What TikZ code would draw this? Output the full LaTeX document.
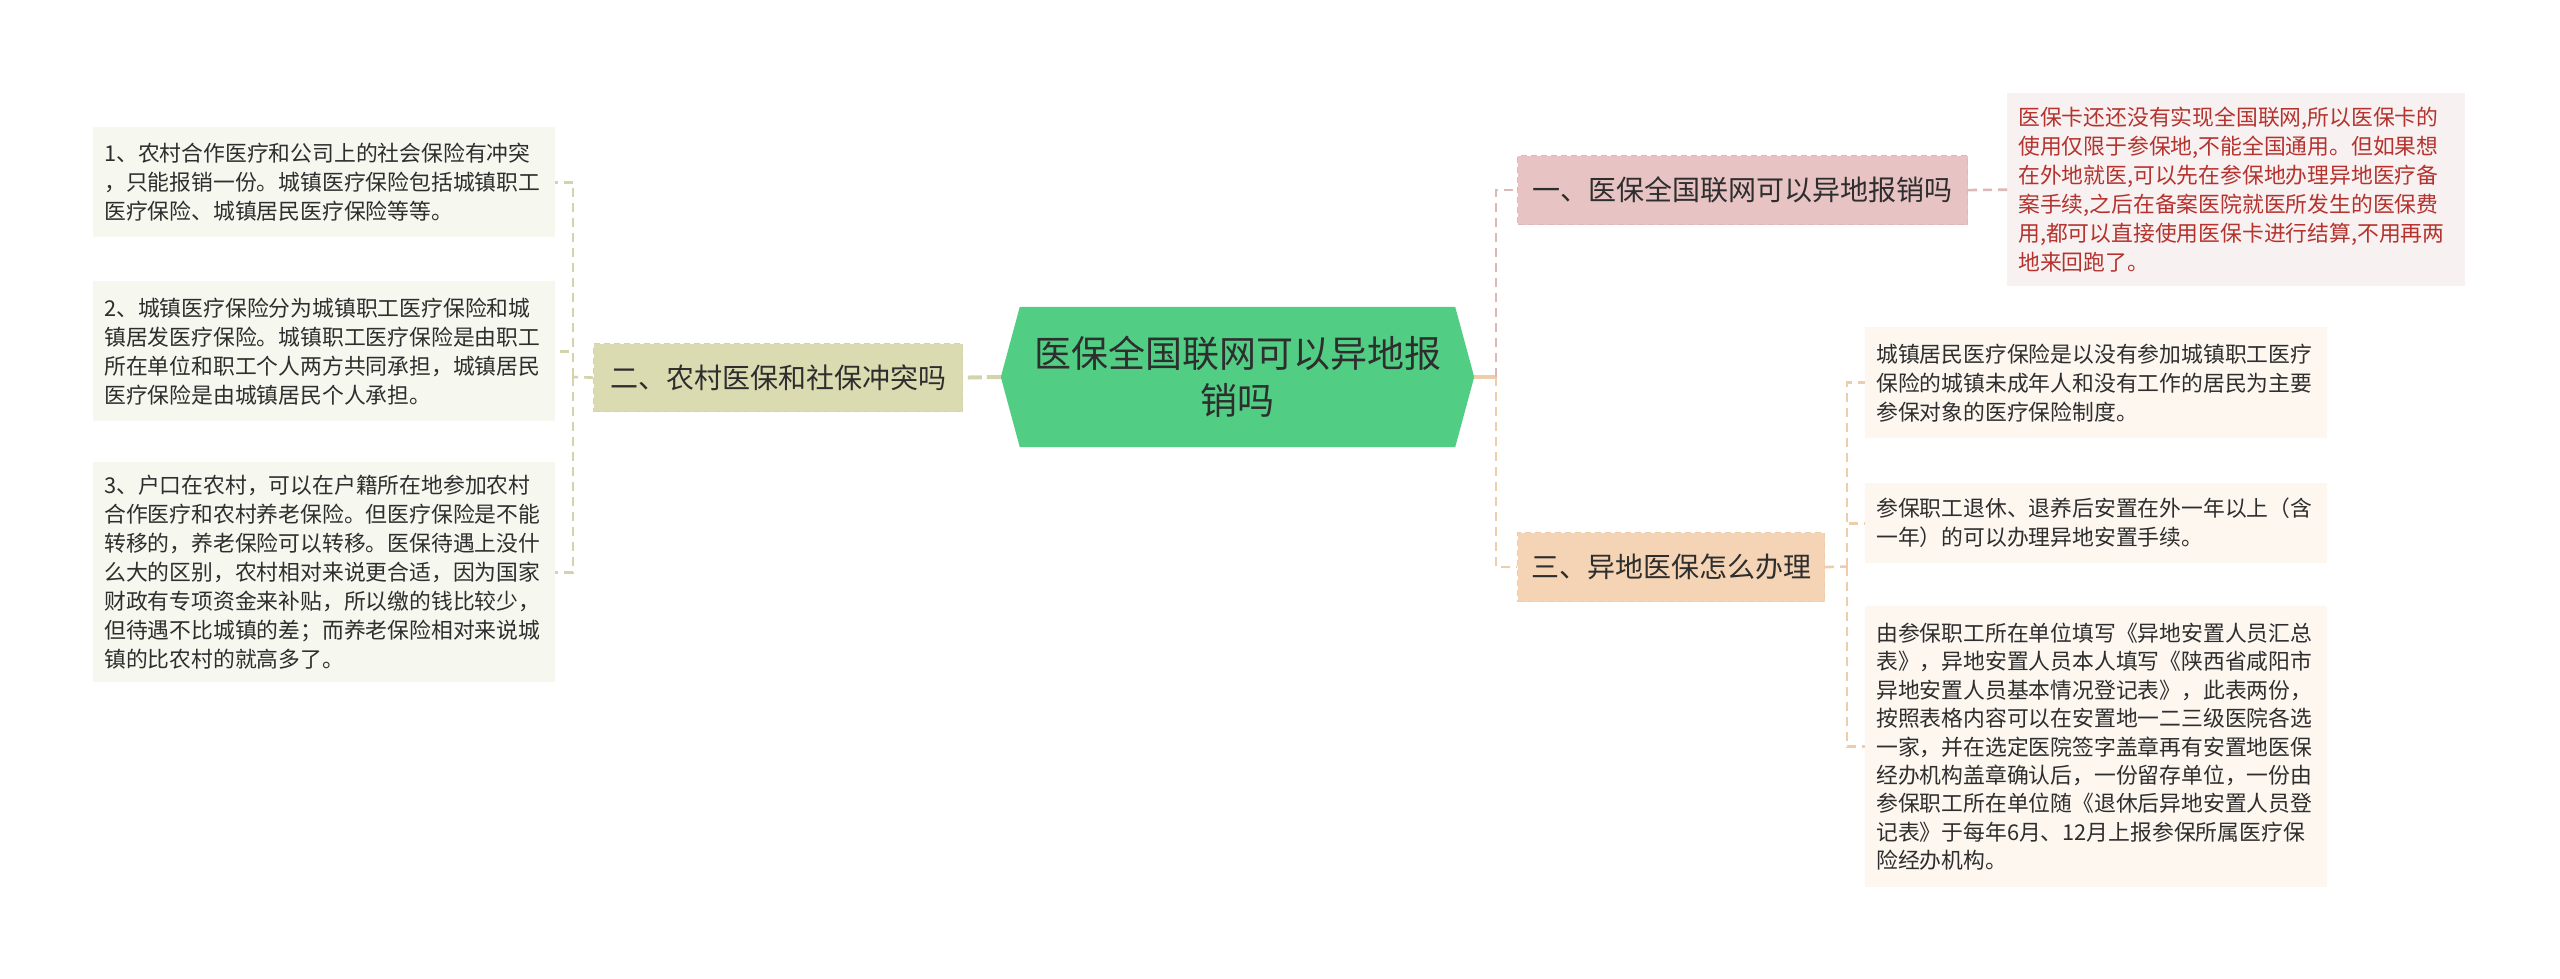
\documentclass[tikz,border=0pt]{standalone}
\usepackage{fontspec}
\setmainfont{Noto Sans CJK SC}
\usetikzlibrary{backgrounds}
\definecolor{cgreen}{HTML}{52CD84}
\definecolor{ckhaki}{HTML}{DBDBB2}
\definecolor{ckhakiln}{HTML}{D3D4AB}
\definecolor{cleftbox}{HTML}{F6F7EF}
\definecolor{cpink}{HTML}{E7C3C3}
\definecolor{cpinkln}{HTML}{DDB8B8}
\definecolor{credbox}{HTML}{F7F1F1}
\definecolor{credtext}{HTML}{B5332E}
\definecolor{cpeach}{HTML}{F4D4B4}
\definecolor{cpeachln}{HTML}{EFCDAA}
\definecolor{crightbox}{HTML}{FDF7F0}
\definecolor{ctext}{HTML}{2E2E2E}
\tikzset{
  detail/.style={anchor=north west, align=left, text width=440pt, inner xsep=11pt, inner ysep=0pt,
    font=\fontsize{21.8}{29}\selectfont, text=ctext},
  topic/.style={anchor=north west, inner sep=0pt, font=\fontsize{28}{34}\selectfont, text=ctext,
    line width=1.2pt, dash pattern=on 6pt off 4pt},
  conn/.style={line width=2.6pt, dash pattern=on 9pt off 6pt},
}
\begin{document}
\begin{tikzpicture}[x=1pt,y=-1pt]
\useasboundingbox (0,0) rectangle (2560,979);

% central node
\node[inner sep=0pt, minimum width=473pt, minimum height=140pt, align=center,
  font=\fontsize{37}{47}\selectfont, text=ctext] (c) at (1237.5,377) {医保全国联网可以异地报\\销吗};
\begin{scope}[on background layer]
\fill[white] (0,0) rectangle (2560,979);
\fill[cgreen] ([xshift=19pt]c.north west) -- ([xshift=-19pt]c.north east) -- (c.east)
  -- ([xshift=-19pt]c.south east) -- ([xshift=19pt]c.south west) -- (c.west) -- cycle;
\end{scope}

% topic nodes
\node[topic, fill=ckhaki, draw=ckhakiln, minimum width=369pt, minimum height=68pt] (n2) at (593,343) {二、农村医保和社保冲突吗};
\node[topic, fill=cpink, draw=cpinkln, minimum width=450pt, minimum height=69pt] (n1) at (1517,155) {一、医保全国联网可以异地报销吗};
\node[topic, fill=cpeach, draw=cpeachln, minimum width=307pt, minimum height=69pt] (n3) at (1517,532) {三、异地医保怎么办理};

% left details
\node[detail, fill=cleftbox, minimum height=110pt] (b1) at (93,127) {1、农村合作医疗和公司上的社会保险有冲突\\，只能报销一份。城镇医疗保险包括城镇职工\\医疗保险、城镇居民医疗保险等等。};
\node[detail, fill=cleftbox, minimum height=140pt] (b2) at (93,281) {2、城镇医疗保险分为城镇职工医疗保险和城\\镇居发医疗保险。城镇职工医疗保险是由职工\\所在单位和职工个人两方共同承担，城镇居民\\医疗保险是由城镇居民个人承担。};
\node[detail, fill=cleftbox, minimum height=220pt] (b3) at (93,462) {3、户口在农村，可以在户籍所在地参加农村\\合作医疗和农村养老保险。但医疗保险是不能\\转移的，养老保险可以转移。医保待遇上没什\\么大的区别，农村相对来说更合适，因为国家\\财政有专项资金来补贴，所以缴的钱比较少，\\但待遇不比城镇的差；而养老保险相对来说城\\镇的比农村的就高多了。};

% red detail
\node[detail, fill=credbox, text=credtext, text width=436pt, minimum height=193pt] (r) at (2007,93) {医保卡还还没有实现全国联网,所以医保卡的\\使用仅限于参保地,不能全国通用。但如果想\\在外地就医,可以先在参保地办理异地医疗备\\案手续,之后在备案医院就医所发生的医保费\\用,都可以直接使用医保卡进行结算,不用再两\\地来回跑了。};

% right details
\node[detail, fill=crightbox, minimum height=111pt] (ra) at (1865,327) {城镇居民医疗保险是以没有参加城镇职工医疗\\保险的城镇未成年人和没有工作的居民为主要\\参保对象的医疗保险制度。};
\node[detail, fill=crightbox, minimum height=80pt] (rb) at (1865,483) {参保职工退休、退养后安置在外一年以上（含\\一年）的可以办理异地安置手续。};
\node[detail, fill=crightbox, minimum height=281pt, font=\fontsize{21.8}{28.4}\selectfont] (rc) at (1865,606) {由参保职工所在单位填写《异地安置人员汇总\\表》，异地安置人员本人填写《陕西省咸阳市\\异地安置人员基本情况登记表》，此表两份，\\按照表格内容可以在安置地一二三级医院各选\\一家，并在选定医院签字盖章再有安置地医保\\经办机构盖章确认后，一份留存单位，一份由\\参保职工所在单位随《退休后异地安置人员登\\记表》于每年6月、12月上报参保所属医疗保\\险经办机构。};

% junctions
\coordinate (jL) at (573,377);
\coordinate (jR) at (1496,377);
\coordinate (jR2) at (1847,566.5);

% connectors
\draw[ckhakiln, line width=4pt, dash pattern=on 14pt off 5pt] (c.west) -- (n2.east);
\draw[conn, ckhakiln] (n2.west) -- (jL);
\draw[conn, ckhakiln] (jL) |- (b1.east);
\draw[conn, ckhakiln] (jL) |- (b2.east);
\draw[conn, ckhakiln] (jL) |- (b3.east);

\draw[cpeachln, line width=3.5pt] (c.east) -- (jR);
\draw[conn, cpinkln] (jR) |- (n1.west);
\draw[conn, cpeachln] (jR) |- (n3.west);
\draw[conn, cpinkln] (n1.east) -- (r.west);

\draw[conn, cpeachln] (n3.east) -- (jR2);
\draw[conn, cpeachln] (jR2) |- (ra.west);
\draw[conn, cpeachln] (jR2) |- (rb.west);
\draw[conn, cpeachln] (jR2) |- (rc.west);
\end{tikzpicture}
\end{document}
